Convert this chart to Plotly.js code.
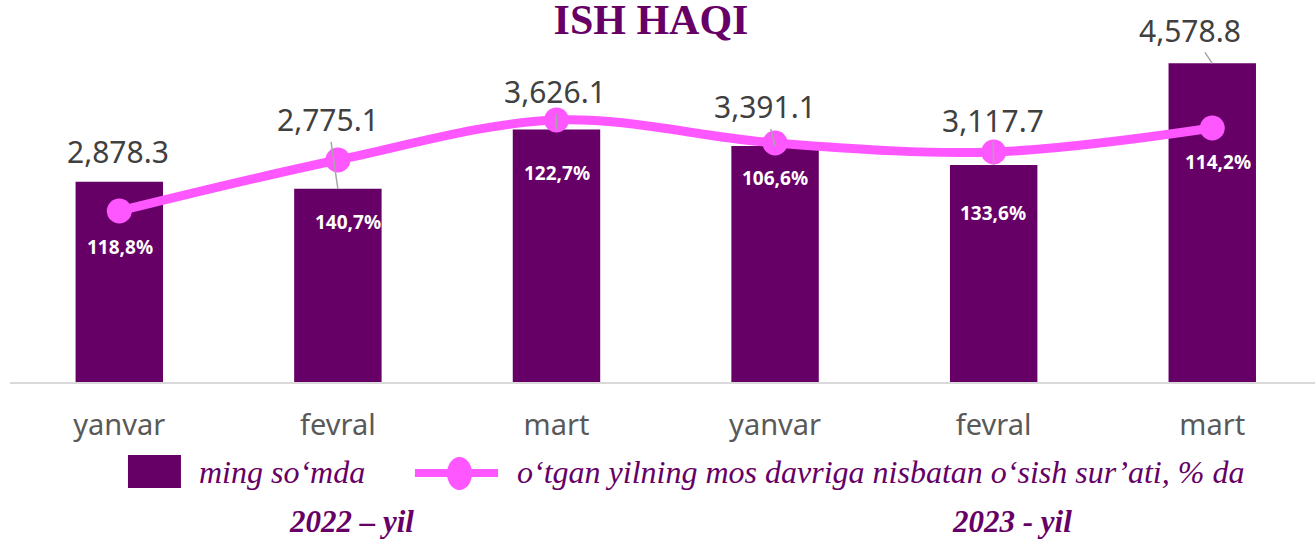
<!DOCTYPE html>
<html>
<head>
<meta charset="utf-8">
<script src="https://cdn.plot.ly/plotly-3.0.1.min.js"></script>
<style>html,body{margin:0;padding:0;background:#fff;}#chart{width:1315px;height:539px;}</style>
</head>
<body>
<div id="chart"></div>
<script>
// ---- data ----
var months = ['yanvar', 'fevral', 'mart', 'yanvar', 'fevral', 'mart'];
var wages = [2878.3, 2775.1, 3626.1, 3391.1, 3117.7, 4578.8];          // ming so'mda
var growthText = ['118,8%', '140,7%', '122,7%', '106,6%', '133,6%', '114,2%'];
var lineLevel = [2457, 3190, 3764, 3434, 3305, 3649];                   // plotted height of the line
var yearLabels = ['2022 – yil', '2023 - yil'];
var seriesNames = ['ming so‘mda', 'o‘tgan yilning mos davriga nisbatan o‘sish sur’ati, % da'];
var titleText = 'ISH HAQI';

var xIdx = months.map(function (m, i) { return i; });
var purple = '#660066', pink = '#ff57ff';
var sansFont = 'Noto Sans, DejaVu Sans, sans-serif';
var serifFont = 'Liberation Serif, Times New Roman, serif';

function fmt(v) {
  return v.toLocaleString('en-US', {minimumFractionDigits: 1, maximumFractionDigits: 1});
}

var traces = [
  {type: 'bar', x: xIdx, y: wages, name: seriesNames[0], marker: {color: purple},
   hoverinfo: 'y', showlegend: false},
  {type: 'scatter', mode: 'lines+markers', x: xIdx, y: lineLevel, name: seriesNames[1],
   line: {color: pink, width: 9, shape: 'spline', smoothing: 1},
   marker: {color: pink, size: 25}, showlegend: false, hoverinfo: 'text', text: growthText}
];

// value label offsets (pixels) relative to bar top
var valOff = [
  {ax: -1, ay: -30, arrow: false},
  {ax: -10, ay: -69, arrow: true},
  {ax: -1, ay: -38, arrow: true},
  {ax: -10, ay: -39, arrow: true},
  {ax: -1, ay: -45, arrow: true},
  {ax: -22, ay: -33, arrow: true}
];
var pctOff = [{dx: 1, dy: -36}, {dx: 10, dy: -62}, {dx: 1, dy: -53}, {dx: 0, dy: -35}, {dx: -1, dy: -61}, {dx: 6, dy: -34}];

var annotations = [];
wages.forEach(function (v, i) {
  var o = valOff[i];
  annotations.push({
    x: xIdx[i], y: v, xref: 'x', yref: 'y', text: fmt(v),
    showarrow: true, arrowhead: 0, arrowwidth: 1.5, arrowcolor: o.arrow ? '#a6a6a6' : 'rgba(0,0,0,0)',
    standoff: 0, ax: o.ax, ay: o.ay,
    font: {family: sansFont, size: 30, color: '#404040'}
  });
});
growthText.forEach(function (t, i) {
  annotations.push({
    x: xIdx[i], y: lineLevel[i], xref: 'x', yref: 'y', text: '<b>' + t + '</b>',
    showarrow: false, xshift: pctOff[i].dx, yshift: pctOff[i].dy,
    font: {family: sansFont, size: 19, color: '#ffffff'}
  });
});
// legend texts
annotations.push({xref: 'paper', yref: 'paper', x: 0.1433, y: -0.2586, xanchor: 'left', yanchor: 'middle',
  showarrow: false, text: '<i>' + seriesNames[0] + '</i>', font: {family: serifFont, size: 32, color: purple}});
annotations.push({xref: 'paper', yref: 'paper', x: 0.387, y: -0.2586, xanchor: 'left', yanchor: 'middle',
  showarrow: false, text: '<i>' + seriesNames[1] + '</i>', font: {family: serifFont, size: 32, color: purple}});
// year labels
annotations.push({xref: 'paper', yref: 'paper', x: 0.262, y: -0.401, xanchor: 'center', yanchor: 'middle',
  showarrow: false, text: '<b><i>' + yearLabels[0] + '</i></b>', font: {family: serifFont, size: 31, color: purple}});
annotations.push({xref: 'paper', yref: 'paper', x: 0.768, y: -0.401, xanchor: 'center', yanchor: 'middle',
  showarrow: false, text: '<b><i>' + yearLabels[1] + '</i></b>', font: {family: serifFont, size: 31, color: purple}});

var shapes = [
  {type: 'rect', xref: 'paper', yref: 'paper', x0: 0.0904, x1: 0.131, y0: -0.2098, y1: -0.3046,
   fillcolor: purple, line: {width: 0}},
  {type: 'line', xref: 'paper', yref: 'paper', x0: 0.3103, x1: 0.374, y0: -0.2615, y1: -0.2615,
   line: {color: pink, width: 8}},
  {type: 'circle', xref: 'paper', yref: 'paper', x0: 0.3349, x1: 0.354, y0: -0.2155, y1: -0.3103,
   fillcolor: pink, line: {width: 0}}
];

var layout = {
  width: 1315, height: 539,
  margin: {l: 10, r: 0, t: 34, b: 157},
  paper_bgcolor: '#ffffff', plot_bgcolor: '#ffffff',
  title: {text: '<b>' + titleText + '</b>', font: {family: serifFont, size: 42, color: purple},
          xref: 'container', x: 651 / 1315, xanchor: 'center', yref: 'container', y: 0.964, yanchor: 'middle'},
  bargap: 0.6,
  showlegend: false,
  xaxis: {range: [-0.5, 5.47], tickvals: xIdx, ticktext: months, showgrid: false, zeroline: false,
          showline: true, linecolor: '#d9d9d9', linewidth: 2, ticks: '', fixedrange: true,
          ticklabelstandoff: 16,
          tickfont: {family: sansFont, size: 29, color: '#595959'}},
  yaxis: {range: [0, 5000], visible: false, showgrid: false, zeroline: false, fixedrange: true},
  annotations: annotations,
  shapes: shapes
};

Plotly.newPlot('chart', traces, layout, {displayModeBar: false, staticPlot: true});
</script>
</body>
</html>
